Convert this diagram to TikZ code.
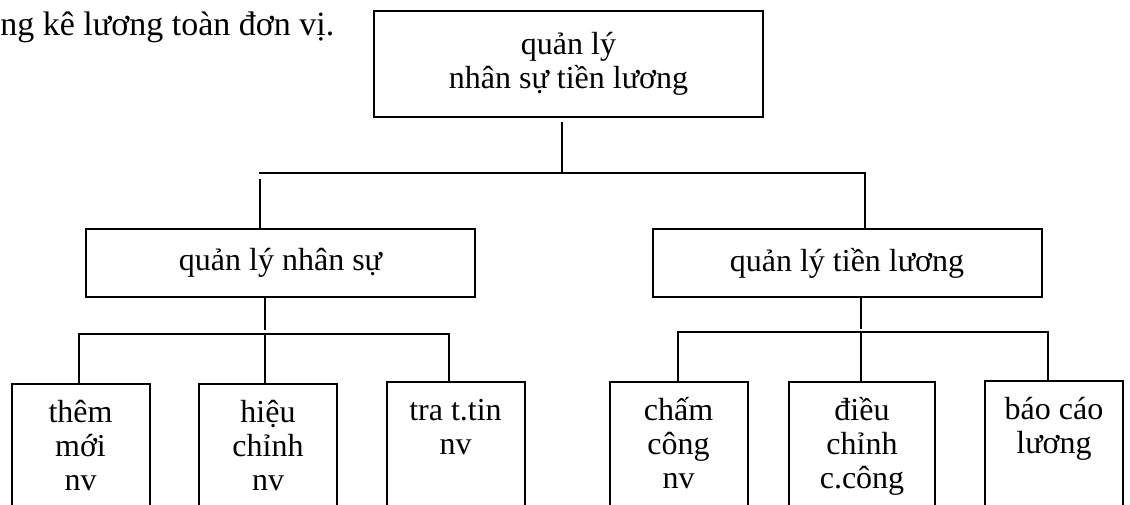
\documentclass[tikz,border=0pt]{standalone}
\usepackage{fontspec}
\setmainfont{Liberation Serif}
\usepackage{tikz}
\usetikzlibrary{positioning,calc}

\begin{document}
\begin{tikzpicture}[
    x=0.5pt, y=-0.5pt,
    every node/.style={font=\fontsize{16}{17.25}\selectfont},
    topbox/.style={draw, line width=1pt, minimum width=194.5pt, minimum height=53pt, align=center, inner sep=0pt},
    midbox/.style={draw, line width=1pt, minimum width=194.5pt, minimum height=34pt, align=center, inner sep=0pt},
    leaf/.style={draw, line width=1pt, anchor=north, minimum width=69pt, align=center, inner sep=0pt, font=\fontsize{16}{17}\selectfont, text height=53pt, text depth=40pt},
    leaftwo/.style={leaf, text height=36pt, text depth=57pt},
    link/.style={line width=1pt}
]
\clip (0,0) rectangle (1130,504);

% Text above
\node[anchor=base west, inner sep=0pt, font=\fontsize{17}{19}\selectfont] (dongtren) at (0,35) {ng kê lương toàn đơn vị.};

% Boxes
\node[topbox] (goc) at (568.5,64) {quản lý\\nhân sự tiền lương};
\node[midbox] (nhansu) at (280.5,263) {quản lý nhân sự};
\node[midbox] (tienluong) at (847,263) {quản lý tiền lương};

% Leaves
\node[leaf] (them) at (80.5,383) {thêm\\mới\\nv};
\node[leaf] (hieu) at (268,383) {hiệu\\chỉnh\\nv};
\node[leaftwo] (tra) at (455.5,381) {tra t.tin\\nv};
\node[leaf] (cham) at (678.5,381) {chấm\\công\\nv};
\node[leaf, minimum width=73pt] (dieu) at (862,381) {điều\\chỉnh\\c.công};
\node[leaftwo] (baocao) at (1054,380) {báo cáo\\lương};

% Connecting lines
\coordinate (t0) at (562,173);
\coordinate (tl) at (259,173);
\coordinate (tr) at (865,173);
\draw[link, shorten <=2pt] (goc.south -| t0) -- (t0);
\draw[link] (tl) -- (tr) -- (tienluong.north -| tr);
\draw[link, shorten >=3pt] (nhansu.north -| 260,0) -- (260,173);

\coordinate (n0) at (265,334);
\coordinate (nl) at (79,334);
\coordinate (nr) at (449,334);
\draw[link, shorten >=2pt] (nhansu.south -| n0) -- (n0);
\draw[link] (them.north -| nl) -- (nl) -- (nr) -- (tra.north -| nr);
\draw[link] (n0) -- (hieu.north -| n0);

\coordinate (l0) at (861,332);
\coordinate (ll) at (678,332);
\coordinate (lr) at (1048,332);
\draw[link, shorten >=1.5pt] (tienluong.south -| l0) -- (l0);
\draw[link] (cham.north -| ll) -- (ll) -- (lr) -- (baocao.north -| lr);
\draw[link] (l0) -- (dieu.north -| l0);

\end{tikzpicture}
\end{document}
